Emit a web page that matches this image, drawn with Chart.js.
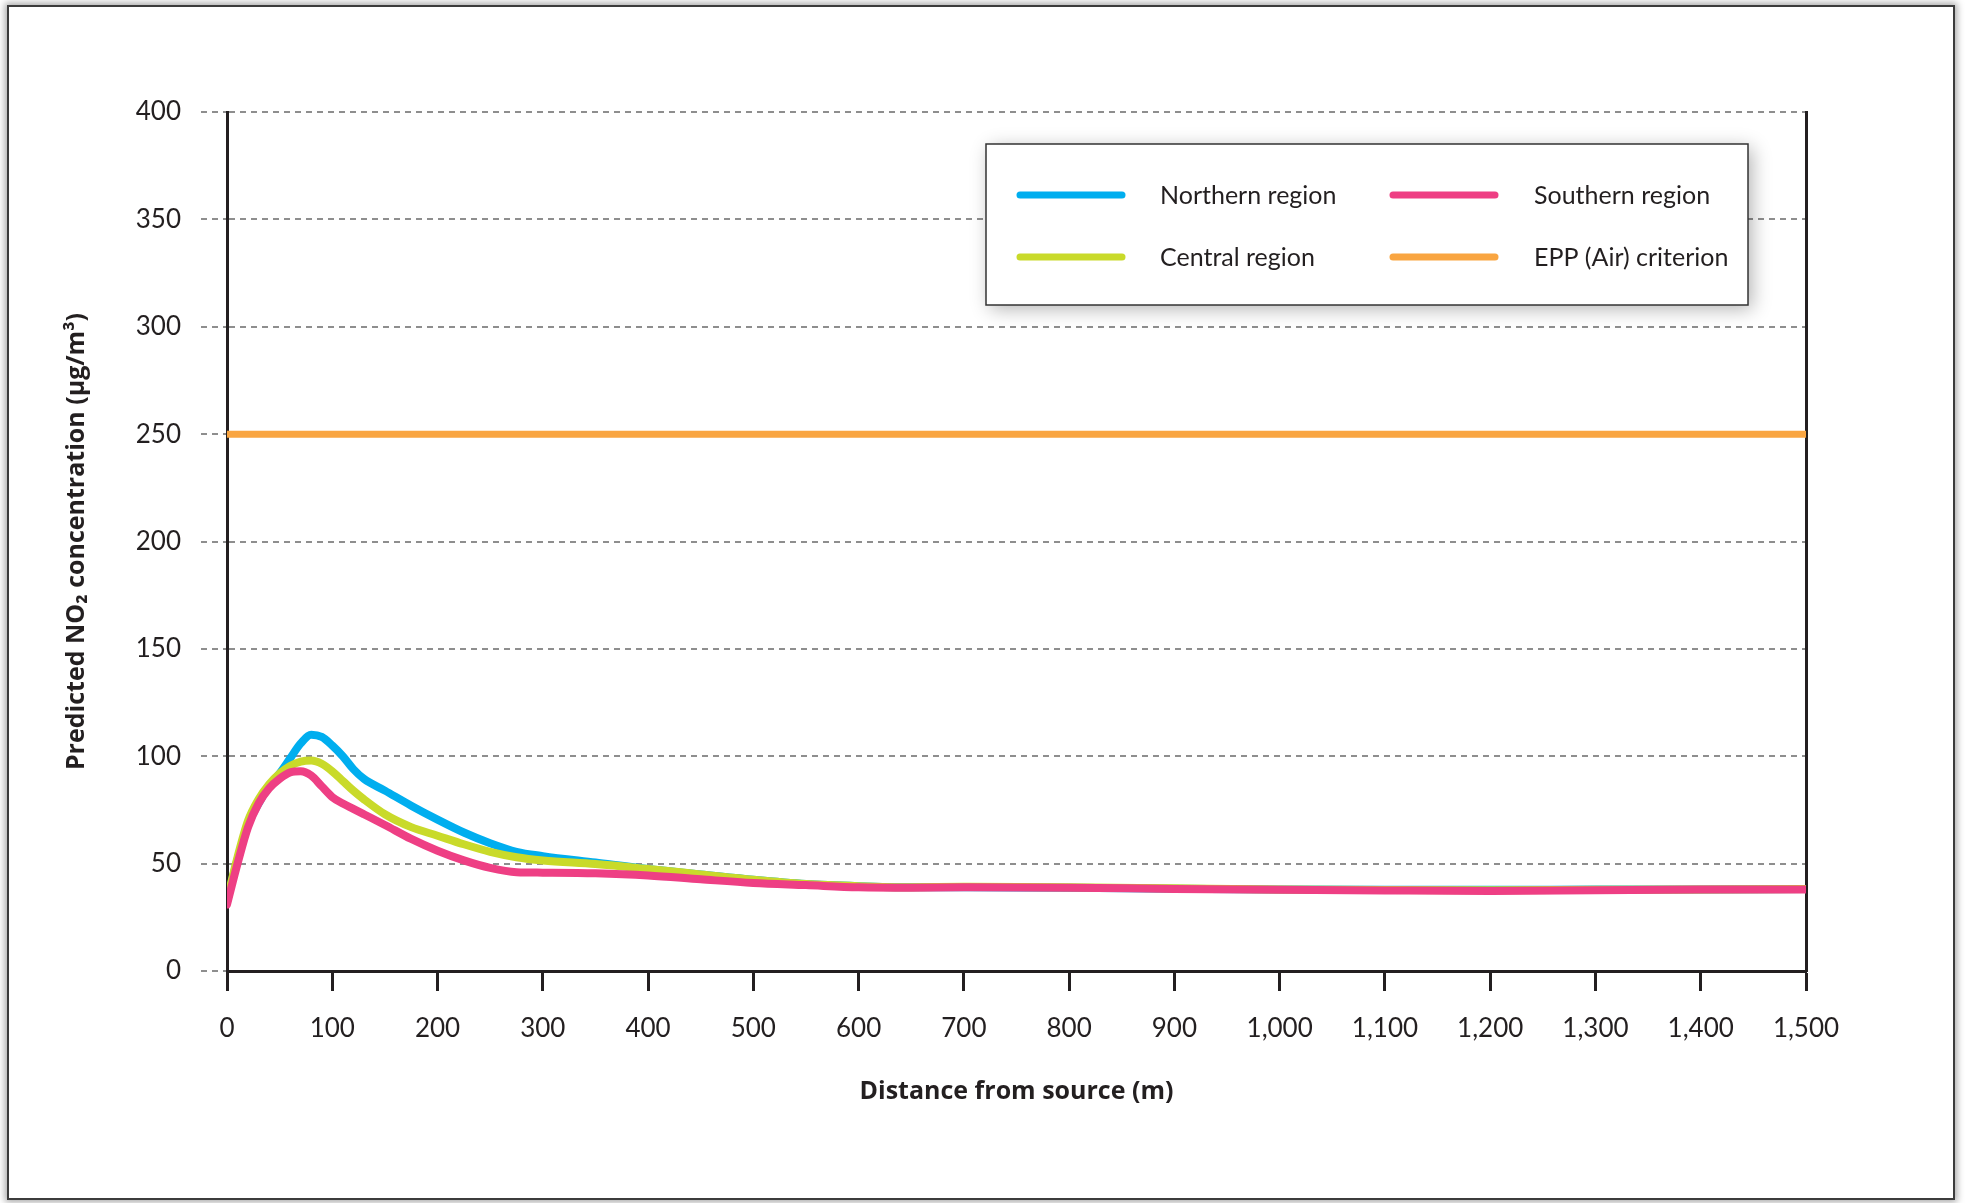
<!DOCTYPE html>
<html>
<head>
<meta charset="utf-8">
<script src="https://cdn.jsdelivr.net/npm/chart.js@4.4.1/dist/chart.umd.min.js"></script>
<style>
  html, body { margin: 0; padding: 0; background: #fff; }
  body { width: 1966px; height: 1203px; position: relative; overflow: hidden; }
  .frame { position: absolute; left: 7px; top: 5px; width: 1944px; height: 1191px;
           border: 2px solid #3c3c3c; box-shadow: 0 0 7px 2px rgba(0,0,0,0.35); background: #fff; }
  #chart { position: absolute; left: 0; top: 0; }
</style>
</head>
<body>
<div class="frame"></div>
<canvas id="chart" width="1966" height="1203"></canvas>
<script>
// distance from source (m)
const distances = [0, 10, 20, 30, 40, 50, 60, 70, 80, 90, 100, 110, 120, 130, 150, 175, 200, 225, 250, 275, 300,
  350, 400, 450, 500, 550, 600, 650, 700, 800, 900, 1000, 1100, 1200, 1300, 1400, 1500];

// predicted NO2 (ug/m3)
const northern = [33, 52, 68, 78, 86, 92, 99, 106, 110, 109, 105, 100, 94, 89.5, 84, 77, 70.5, 64.5, 59.5, 55.5, 53.5,
  50.5, 47.5, 45, 42.5, 40.5, 39.5, 39, 39, 38.8, 38.3, 38, 37.8, 37.8, 37.9, 38, 38.2];
const central = [33, 53, 70, 80, 87, 92, 95.5, 97.5, 98, 96.5, 93, 88.5, 84, 80, 73, 67, 63, 59, 55.5, 53, 51.5,
  49.8, 47.5, 45, 42.5, 40.5, 39.5, 39, 39.2, 39, 38.5, 38, 37.7, 37.6, 37.8, 38, 38.2];
const southern = [31, 50, 67, 78, 85, 89.5, 92.5, 93, 91, 86, 81, 78, 75.5, 73, 68, 61.5, 56, 51.5, 48, 46, 45.8,
  45.5, 44.5, 42.7, 41, 40, 39, 38.8, 39, 38.8, 38.2, 37.8, 37.5, 37.3, 37.6, 37.9, 38];

const criterionX = [0, 1500];
const criterionY = [250, 250];

const seriesLabels = ['Northern region', 'Central region', 'Southern region', 'EPP (Air) criterion'];
const seriesColors = ['#00aeef', '#c9da2a', '#ee3f84', '#f9a541'];

const FONT = "Lato, 'Noto Sans', sans-serif";
const TITLE_FONT = "'Open Sans', Lato, sans-serif";
const INK = '#231f20';

function pts(xs, ys){ return xs.map((x, i) => ({ x, y: ys[i] })); }

// legend box drawn inside the plot, two columns
const boxLegend = {
  id: 'boxLegend',
  afterDraw(chart){
    const ctx = chart.ctx;
    const bx = 986, by = 144, bw = 762, bh = 161;
    ctx.save();
    ctx.shadowColor = 'rgba(0,0,0,0.30)';
    ctx.shadowBlur = 18;
    ctx.shadowOffsetX = 4;
    ctx.shadowOffsetY = 4;
    ctx.fillStyle = '#fff';
    ctx.fillRect(bx, by, bw, bh);
    ctx.restore();

    ctx.save();
    ctx.strokeStyle = '#333';
    ctx.lineWidth = 1.5;
    ctx.strokeRect(bx, by, bw, bh);

    // order in the box: Northern, Southern / Central, EPP
    const slots = [
      { i: 0, lx: 1020, tx: 1160, y: 195 },
      { i: 2, lx: 1393, tx: 1534, y: 195 },
      { i: 1, lx: 1020, tx: 1160, y: 257 },
      { i: 3, lx: 1393, tx: 1534, y: 257 },
    ];
    ctx.lineCap = 'round';
    ctx.font = `25px ${FONT}`;
    ctx.textBaseline = 'middle';
    ctx.fillStyle = INK;
    slots.forEach(s => {
      ctx.strokeStyle = seriesColors[s.i];
      ctx.lineWidth = 7;
      ctx.beginPath();
      ctx.moveTo(s.lx, s.y);
      ctx.lineTo(s.lx + 102, s.y);
      ctx.stroke();
      ctx.fillText(seriesLabels[s.i], s.tx, s.y + 1);
    });
    ctx.restore();
  }
};

const lineStyle = { pointRadius: 0, borderWidth: 8, fill: false, cubicInterpolationMode: 'monotone', borderCapStyle: 'round', borderJoinStyle: 'round' };

new Chart(document.getElementById('chart'), {
  type: 'line',
  data: {
    datasets: [
      { label: seriesLabels[0], data: pts(distances, northern), borderColor: seriesColors[0], order: 3, ...lineStyle },
      { label: seriesLabels[1], data: pts(distances, central), borderColor: seriesColors[1], order: 2, ...lineStyle },
      { label: seriesLabels[2], data: pts(distances, southern), borderColor: seriesColors[2], order: 1, ...lineStyle },
      { label: seriesLabels[3], data: pts(criterionX, criterionY), borderColor: seriesColors[3], order: 0, pointRadius: 0, borderWidth: 7, fill: false },
    ]
  },
  options: {
    responsive: false,
    animation: false,
    layout: { padding: { left: 0, top: 112, right: 160, bottom: 0 } },
    plugins: { legend: { display: false }, tooltip: { enabled: false } },
    scales: {
      x: {
        type: 'linear', position: 'bottom', min: 0, max: 1500,
        border: { color: INK, width: 3 },
        grid: { drawOnChartArea: false, drawTicks: true, tickLength: 20, tickColor: INK, tickWidth: 3 },
        ticks: { stepSize: 100, autoSkip: false, maxRotation: 0, padding: 22, color: INK,
                 font: { family: FONT, size: 26 },
                 callback: v => v.toLocaleString('en-US') },
        title: { display: true, text: 'Distance from source (m)', color: INK,
                 font: { family: TITLE_FONT, size: 25, weight: 'bold' }, padding: { top: 0, bottom: 96 } },
        afterFit(s){ s.height = 232; }
      },
      y: {
        position: 'left', min: 0, max: 400,
        border: { color: INK, width: 3, dash: [6, 5] },
        grid: { color: '#8e8e8e', lineWidth: 2, tickBorderDash: [6, 5],
                tickColor: '#8e8e8e', tickWidth: 2, tickLength: 26 },
        ticks: { stepSize: 50, padding: 20, color: INK, font: { family: FONT, size: 26 } },
        title: { display: true, text: 'Predicted NO\u2082 concentration (\u00b5g/m\u00b3)', color: INK,
                 font: { family: TITLE_FONT, size: 25, weight: 'bold' }, padding: { top: 62, bottom: 0 } },
        afterFit(s){ s.width = 227; }
      },
      y2: {
        position: 'right', min: 0, max: 400,
        border: { color: INK, width: 3 },
        grid: { drawOnChartArea: false, drawTicks: false },
        ticks: { display: false },
        afterFit(s){ s.width = 0; }
      }
    }
  },
  plugins: [boxLegend]
});
</script>
</body>
</html>
